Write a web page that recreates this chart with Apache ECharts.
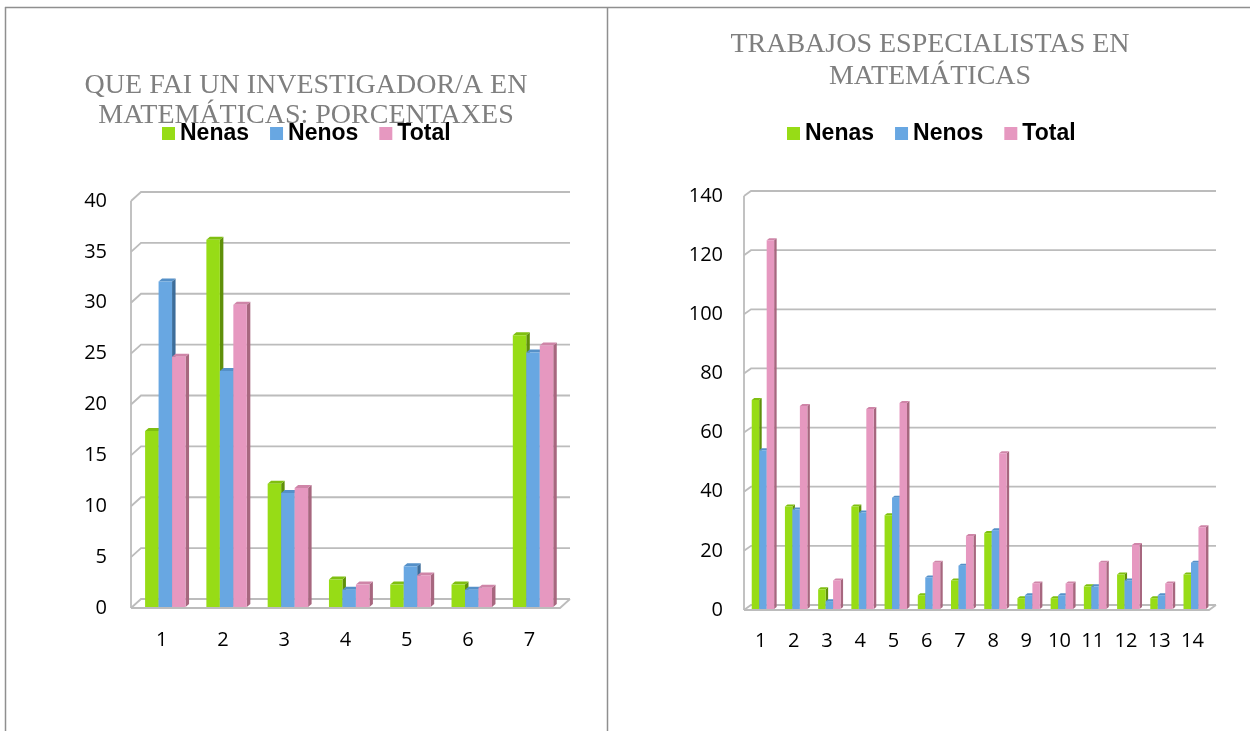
<!DOCTYPE html>
<html>
<head>
<meta charset="utf-8">
<script src="https://cdn.jsdelivr.net/npm/echarts@6/dist/echarts.min.js"></script>
<style>
  html, body { margin: 0; padding: 0; background: #fff; }
  #chart { width: 1250px; height: 731px; }
</style>
</head>
<body>
<div id="chart"></div>
<script>
// Panel 1: percentages by answer
const catsLeft = ['1', '2', '3', '4', '5', '6', '7'];
const nenasPct = [17.4, 36.2, 12.2, 2.8, 2.3, 2.3, 26.8];
const nenosPct = [32.1, 23.3, 11.3, 1.8, 4.1, 1.8, 25.1];
const totalPct = [24.7, 29.8, 11.8, 2.3, 3.2, 2.0, 25.8];
const ticksLeft = [0, 5, 10, 15, 20, 25, 30, 35, 40];

// Panel 2: counts by speciality
const catsRight = ['1', '2', '3', '4', '5', '6', '7', '8', '9', '10', '11', '12', '13', '14'];
const nenasCnt = [71, 35, 7, 35, 32, 5, 10, 26, 4, 4, 8, 12, 4, 12];
const nenosCnt = [54, 34, 3, 33, 38, 11, 15, 27, 5, 5, 8, 10, 5, 16];
const totalCnt = [125, 69, 10, 68, 70, 16, 25, 53, 9, 9, 16, 22, 9, 28];
const ticksRight = [0, 20, 40, 60, 80, 100, 120, 140];

const seriesNames = ['Nenas', 'Nenos', 'Total'];
const titleLeft = 'QUE FAI UN INVESTIGADOR/A EN\nMATEMÁTICAS: PORCENTAXES';
const titleRight = 'TRABAJOS ESPECIALISTAS EN\nMATEMÁTICAS';

// front / side / cap shades for each series
const shades = [
  { front: '#97dc16', side: '#5f900a', top: '#7fbf10' },
  { front: '#68a7e2', side: '#3d6d9a', top: '#5590c8' },
  { front: '#e698c0', side: '#a7677f', top: '#cf85a8' }
];

const AXIS_FONT = '"Open Sans", Lato, sans-serif';
const GRID_COLOR = '#bcbcbc';

function toPairs(arr) { return arr.map((v, i) => [i, v]); }

// Back wall: gridlines pushed back by (dx, dy) with connectors to the front plane
function wallRenderer(dx, dy) {
  return function (params, api) {
    const cs = params.coordSys;
    const left = cs.x, right = cs.x + cs.width;
    const v = api.value(1);
    const y = api.coord([0, v])[1];
    const st = { stroke: GRID_COLOR, lineWidth: 1.8, fill: null };
    const children = [
      { type: 'polyline', shape: { points: [[left, y], [left + dx, y - dy], [right + dx, y - dy]] }, style: st }
    ];
    if (v === 0) {
      children.push({ type: 'polyline', shape: { points: [[left, y], [right, y], [right + dx, y - dy]] }, style: st });
      children.push({ type: 'line', shape: { x1: left, y1: y, x2: left, y2: cs.y }, style: st });
    }
    return { type: 'group', children: children };
  };
}

// Bars drawn as front face + side face + top cap
function barRenderer(k, frac, shift, depth, rise) {
  const c = shades[k];
  return function (params, api) {
    const ci = api.value(0), v = api.value(1);
    const base = api.coord([ci, 0]);
    const top = api.coord([ci, v]);
    const cw = api.size([1, 0])[0];
    const bw = cw * frac;
    const x0 = base[0] + (k - 1.5) * bw + cw * shift;
    const yb = base[1] - 1, yt = top[1];
    return {
      type: 'group',
      children: [
        { type: 'polygon', shape: { points: [[x0 + bw, yt], [x0 + bw + depth, yt - rise], [x0 + bw + depth, yb - rise], [x0 + bw, yb]] }, style: { fill: c.side } },
        { type: 'polygon', shape: { points: [[x0, yt], [x0 + depth, yt - rise], [x0 + bw + depth, yt - rise], [x0 + bw, yt]] }, style: { fill: c.top } },
        { type: 'rect', shape: { x: x0, y: yt, width: bw, height: yb - yt }, style: { fill: c.front } }
      ]
    };
  };
}

function makeBars(gridIdx, arrays, frac, shift, depth, rise) {
  return arrays.map((arr, k) => ({
    type: 'custom',
    name: seriesNames[k],
    xAxisIndex: gridIdx,
    yAxisIndex: gridIdx,
    data: toPairs(arr),
    encode: { x: 0, y: 1 },
    itemStyle: { color: shades[k].front },
    renderItem: barRenderer(k, frac, shift, depth, rise),
    silent: true
  }));
}

function makeWall(gridIdx, ticks, dx, dy) {
  return {
    type: 'custom',
    name: 'wall' + gridIdx,
    xAxisIndex: gridIdx,
    yAxisIndex: gridIdx,
    data: ticks.map(t => [0, t]),
    encode: { x: 0, y: 1 },
    renderItem: wallRenderer(dx, dy),
    silent: true
  };
}

function legendAt(left) {
  return {
    left: left,
    top: 122,
    padding: 0,
    icon: 'rect',
    itemWidth: 13,
    itemHeight: 13,
    itemGap: 21,
    selectedMode: false,
    textStyle: { fontFamily: '"Liberation Sans", Arial, sans-serif', fontWeight: 'bold', fontSize: 23, color: '#000' },
    data: seriesNames.map((n, k) => ({ name: n, itemStyle: { color: shades[k].front } }))
  };
}

const axisLabelStyle = { fontFamily: AXIS_FONT, fontSize: 20, color: '#000' };

const chart = echarts.init(document.getElementById('chart'), null, { renderer: 'canvas' });

const option = {
  animation: false,
  backgroundColor: '#ffffff',
  title: [
    {
      text: titleLeft, left: 306, top: 71, padding: 0, textAlign: 'center',
      textStyle: { fontFamily: '"Liberation Serif", "Times New Roman", serif', fontWeight: 'normal', fontSize: 28, lineHeight: 30, color: '#7f7f7f' }
    },
    {
      text: titleRight, left: 930, top: 29, padding: 0, textAlign: 'center',
      textStyle: { fontFamily: '"Liberation Serif", "Times New Roman", serif', fontWeight: 'normal', fontSize: 28, lineHeight: 32, color: '#7f7f7f' }
    }
  ],
  legend: [legendAt(162), legendAt(787)],
  grid: [
    { left: 131, top: 201, width: 429, height: 407 },
    { left: 744, top: 196, width: 465, height: 414 }
  ],
  xAxis: [
    {
      type: 'category', gridIndex: 0, data: catsLeft,
      axisLine: { show: false }, axisTick: { show: false },
      axisLabel: Object.assign({ margin: 22 }, axisLabelStyle)
    },
    {
      type: 'category', gridIndex: 1, data: catsRight,
      axisLine: { show: false }, axisTick: { show: false },
      axisLabel: Object.assign({ margin: 21, interval: 0 }, axisLabelStyle)
    }
  ],
  yAxis: [
    {
      type: 'value', gridIndex: 0, min: 0, max: 40, interval: 5,
      axisLine: { show: false }, axisTick: { show: false }, splitLine: { show: false },
      axisLabel: Object.assign({ margin: 24 }, axisLabelStyle)
    },
    {
      type: 'value', gridIndex: 1, min: 0, max: 140, interval: 20,
      axisLine: { show: false }, axisTick: { show: false }, splitLine: { show: false },
      axisLabel: Object.assign({ margin: 21 }, axisLabelStyle)
    }
  ],
  graphic: [
    { type: 'line', shape: { x1: 5.5, y1: 7, x2: 5.5, y2: 731 }, style: { stroke: '#8f8f8f', lineWidth: 1.5 } },
    { type: 'line', shape: { x1: 5, y1: 7.5, x2: 1250, y2: 7.5 }, style: { stroke: '#8f8f8f', lineWidth: 1.5 } },
    { type: 'line', shape: { x1: 607.5, y1: 7, x2: 607.5, y2: 731 }, style: { stroke: '#8f8f8f', lineWidth: 1.5 } }
  ],
  series: [
    makeWall(0, ticksLeft, 10, 9),
    makeWall(1, ticksRight, 7, 5)
  ]
    .concat(makeBars(0, [nenasPct, nenosPct, totalPct], 0.22, 0.06, 3.5, 3))
    .concat(makeBars(1, [nenasCnt, nenosCnt, totalCnt], 0.225, 0.07, 2.5, 2))
};

chart.setOption(option);
</script>
</body>
</html>
